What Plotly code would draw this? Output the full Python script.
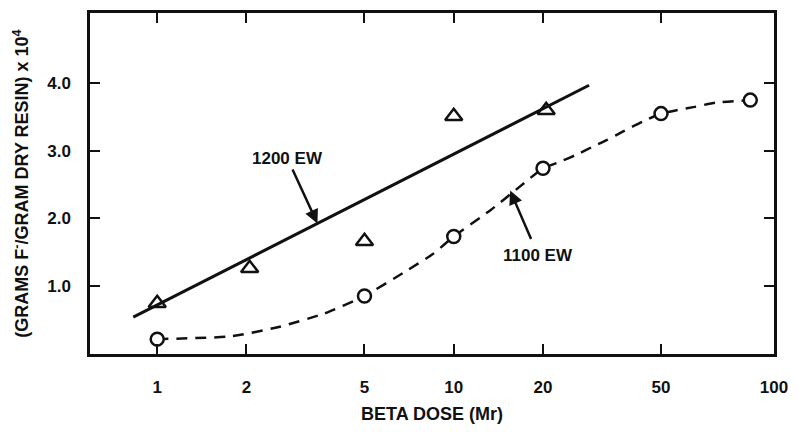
import numpy as np
import plotly.graph_objects as go

# ---- data ----
dose_1200 = [1, 2.05, 5, 10, 20.5]
val_1200 = [0.74, 1.26, 1.66, 3.51, 3.60]

dose_1100 = [1, 5, 10, 20, 50, 100]
val_1100 = [0.21, 0.85, 1.73, 2.74, 3.55, 3.75]

fit_1200_x = [0.83, 28.6]
fit_1200_y = [0.535, 3.97]

curve_1100_x = [1.0, 1.76, 2.57, 3.66, 5.0, 6.8, 8.5, 10.0, 13.3, 16.5, 20.0, 22.6, 25.9, 29.1, 32.9, 37.4, 43.3, 50.0, 55.0, 65.0, 76.0, 100.0]
curve_1100_y = [0.21, 0.25, 0.39, 0.59, 0.85, 1.20, 1.47, 1.73, 2.12, 2.45, 2.74, 2.83, 2.94, 3.05, 3.16, 3.29, 3.43, 3.55, 3.59, 3.65, 3.71, 3.75]

x_tick_vals = [1, 2, 5, 10, 20, 50]
x_tick_text = ["1", "2", "5", "10", "20", "50", "100"]
y_tick_vals = [1, 2, 3, 4]
y_tick_text = ["1.0", "2.0", "3.0", "4.0"]

label_1200 = "1200 EW"
label_1100 = "1100 EW"
arrow_1200_x = 3.47
arrow_1100_x = 15.5
arrow_1100_y = 2.41

x_range = [-0.2267, 2.08]
y_range = [-0.01, 5.04]

FONT = "Liberation Sans, Arial, Helvetica, sans-serif"
INK = "#111111"

fig = go.Figure()

fig.add_trace(go.Scatter(x=fit_1200_x, y=fit_1200_y, mode="lines",
                         line=dict(color=INK, width=3), showlegend=False, hoverinfo="skip"))
fig.add_trace(go.Scatter(x=curve_1100_x, y=curve_1100_y, mode="lines",
                         line=dict(color=INK, width=2.5, dash="11px,8px", shape="spline", smoothing=0.5),
                         showlegend=False, hoverinfo="skip"))
fig.add_trace(go.Scatter(x=dose_1200, y=val_1200, mode="markers",
                         marker=dict(symbol="triangle-up-open", size=15, color=INK, line=dict(width=2.5, color=INK)),
                         showlegend=False))
fig.add_trace(go.Scatter(x=dose_1100, y=val_1100, mode="markers",
                         marker=dict(symbol="circle", size=13, color="white", line=dict(width=2.5, color=INK)),
                         showlegend=False))

# arrow tip on the 1200 EW line (interpolated in log space)
lx = np.log10(fit_1200_x)
arrow_1200_y = float(np.interp(np.log10(arrow_1200_x), lx, fit_1200_y))

fig.add_annotation(x=np.log10(arrow_1200_x), y=arrow_1200_y, xref="x", yref="y",
                   text="<b>%s</b>" % label_1200, showarrow=True, ax=-30, ay=-65,
                   arrowhead=2, arrowsize=1.1, arrowwidth=2.5, arrowcolor=INK,
                   font=dict(family=FONT, size=17, color=INK))
fig.add_annotation(x=np.log10(arrow_1100_x), y=arrow_1100_y, xref="x", yref="y",
                   text="<b>%s</b>" % label_1100, showarrow=True, ax=28, ay=65,
                   arrowhead=2, arrowsize=1.1, arrowwidth=2.5, arrowcolor=INK, startstandoff=6,
                   font=dict(family=FONT, size=17, color=INK))

fig.update_xaxes(type="log", range=x_range,
                 tickvals=x_tick_vals + [10 ** x_range[1]], ticktext=x_tick_text,
                 ticks="inside", ticklen=10, tickwidth=2, tickcolor=INK,
                 showline=True, linewidth=2.5, linecolor=INK, mirror="ticks",
                 showgrid=False, zeroline=False, ticklabelstandoff=16,
                 tickfont=dict(family=FONT, size=17, color=INK, weight="bold"),
                 title=dict(text="<b>BETA DOSE (Mr)</b>", standoff=12,
                            font=dict(family=FONT, size=18, color=INK)))
fig.update_yaxes(range=y_range, tickvals=y_tick_vals, ticktext=y_tick_text,
                 ticks="inside", ticklen=10, tickwidth=2, tickcolor=INK,
                 showline=True, linewidth=2.5, linecolor=INK, mirror="ticks",
                 showgrid=False, zeroline=False, ticklabelstandoff=13,
                 tickfont=dict(family=FONT, size=17, color=INK, weight="bold"),
                 title=dict(text="<b>(GRAMS F<sup>-</sup>/GRAM DRY RESIN) x 10<sup>4</sup></b>", standoff=14,
                            font=dict(family=FONT, size=18, color=INK)))

fig.update_layout(width=798, height=432, margin=dict(l=90, r=16, t=10, b=67),
                  paper_bgcolor="white", plot_bgcolor="white",
                  font=dict(family=FONT, color=INK))

fig.write_html("out.html")
